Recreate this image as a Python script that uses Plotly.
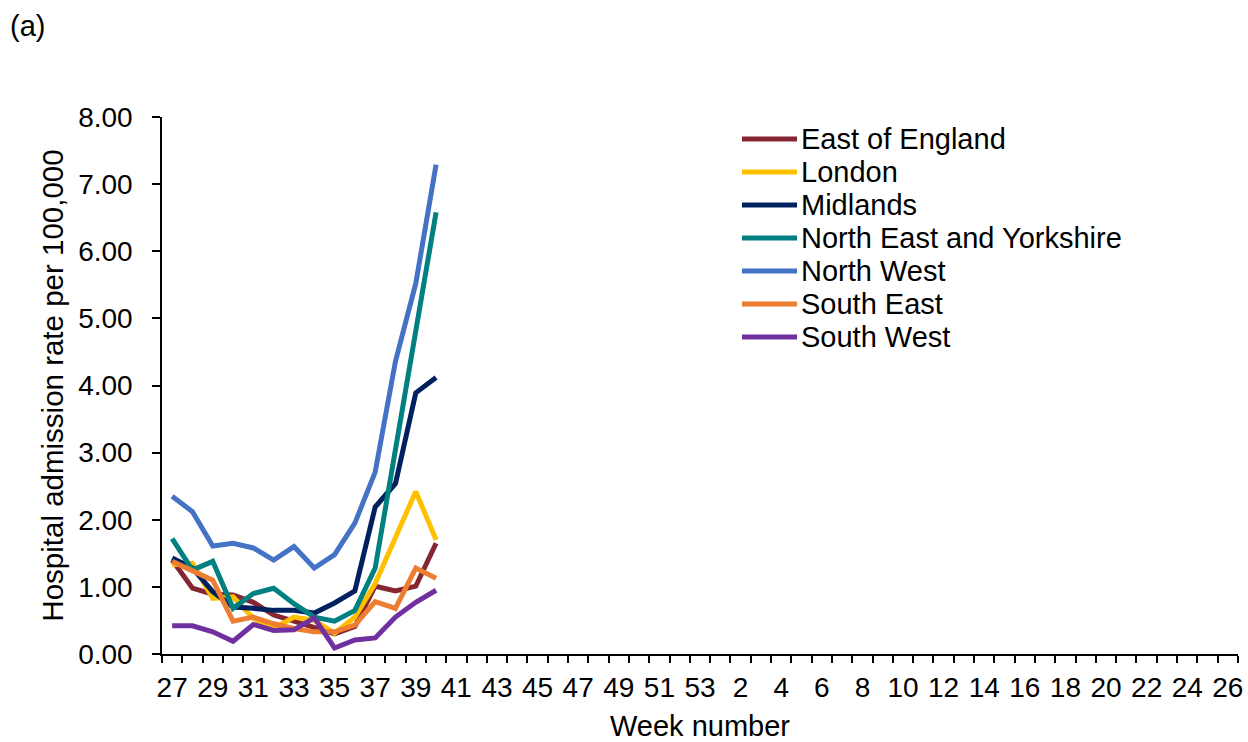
import plotly.graph_objects as go

# 주차 라벨 (27주 ~ 53주, 이후 1주 ~ 26주)
week_labels = ['27', '28', '29', '30', '31', '32', '33', '34', '35', '36', '37', '38', '39', '40',
               '41', '42', '43', '44', '45', '46', '47', '48', '49', '50', '51', '52', '53',
               '1', '2', '3', '4', '5', '6', '7', '8', '9', '10', '11', '12', '13', '14',
               '15', '16', '17', '18', '19', '20', '21', '22', '23', '24', '25', '26']
data_weeks = ['27', '28', '29', '30', '31', '32', '33', '34', '35', '36', '37', '38', '39', '40']

regions = ['East of England', 'London', 'Midlands', 'North East and Yorkshire',
           'North West', 'South East', 'South West']
colors = ['#862633', '#FFC000', '#002060', '#008080', '#4472C4', '#ED7D31', '#7030A0']

east_of_england = [1.40, 0.98, 0.89, 0.88, 0.77, 0.58, 0.49, 0.40, 0.30, 0.41, 1.01, 0.94, 1.01, 1.65]
london = [1.33, 1.35, 0.83, 0.85, 0.53, 0.38, 0.55, 0.50, 0.31, 0.55, 1.05, 1.75, 2.42, 1.70]
midlands = [1.43, 1.28, 0.93, 0.70, 0.68, 0.65, 0.65, 0.61, 0.76, 0.94, 2.19, 2.54, 3.89, 4.12]
north_east_yorkshire = [1.72, 1.25, 1.38, 0.68, 0.90, 0.98, 0.75, 0.55, 0.49, 0.65, 1.28, 3.08, 4.87, 6.58]
north_west = [2.35, 2.12, 1.61, 1.65, 1.58, 1.40, 1.60, 1.28, 1.48, 1.95, 2.71, 4.36, 5.52, 7.29]
south_east = [1.38, 1.23, 1.10, 0.49, 0.55, 0.45, 0.38, 0.33, 0.33, 0.43, 0.78, 0.68, 1.28, 1.13]
south_west = [0.42, 0.42, 0.33, 0.19, 0.44, 0.35, 0.36, 0.54, 0.09, 0.21, 0.24, 0.55, 0.77, 0.95]

series = [east_of_england, london, midlands, north_east_yorkshire,
          north_west, south_east, south_west]

FONT = 'Liberation Sans, Arial, sans-serif'

fig = go.Figure()

for name, color, vals in zip(regions, colors, series):
    fig.add_trace(go.Scatter(
        x=data_weeks,
        y=vals,
        mode='lines',
        name=name,
        line=dict(color=color, width=5),
        showlegend=False
    ))

# 수동 범례 (Excel 스타일: 긴 선 샘플, 촘촘한 행 간격)
plot_left, plot_w = 162, 1076
plot_bottom, plot_h = 654, 537
for i, (name, color) in enumerate(zip(regions, colors)):
    yp = (plot_bottom - (139 + 33 * i)) / plot_h
    fig.add_shape(type='line', xref='paper', yref='paper',
                  x0=(742 - plot_left) / plot_w, x1=(797 - plot_left) / plot_w,
                  y0=yp, y1=yp, line=dict(color=color, width=5))
    fig.add_annotation(xref='paper', yref='paper', x=(799 - plot_left) / plot_w, y=yp,
                       text=name, showarrow=False, xanchor='left', yanchor='middle',
                       font=dict(family=FONT, size=29, color='black'))

# 패널 라벨
fig.add_annotation(xref='paper', yref='paper', x=(8 - plot_left) / plot_w,
                   y=(plot_bottom - 26) / plot_h, text='(a)', showarrow=False,
                   xanchor='left', yanchor='middle',
                   font=dict(family=FONT, size=29, color='black'))

tick_text = [w if i % 2 == 0 else '' for i, w in enumerate(week_labels)]

fig.update_xaxes(
    type='category',
    categoryorder='array',
    categoryarray=week_labels,
    tickmode='array',
    tickvals=week_labels,
    ticktext=tick_text,
    tickson='boundaries',
    tickangle=0,
    range=[-0.5, len(week_labels) - 0.5],
    ticks='outside',
    ticklen=7,
    tickcolor='black',
    tickwidth=1.5,
    ticklabelstandoff=8,
    showline=True,
    linecolor='black',
    linewidth=1.5,
    showgrid=False,
    tickfont=dict(family=FONT, size=28, color='black'),
    title=dict(text='Week number', standoff=19,
               font=dict(family=FONT, size=29, color='black')),
    automargin=False
)

fig.update_yaxes(
    range=[0, 8],
    tickmode='linear',
    tick0=0,
    dtick=1,
    tickformat='.2f',
    ticks='outside',
    ticklen=8,
    tickcolor='black',
    tickwidth=1.5,
    ticklabelstandoff=14,
    showline=True,
    linecolor='black',
    linewidth=1.5,
    showgrid=False,
    zeroline=False,
    tickfont=dict(family=FONT, size=28, color='black'),
    title=dict(text='Hospital admission rate per 100,000', standoff=6,
               font=dict(family=FONT, size=29.5, color='black')),
    automargin=False
)

fig.update_layout(
    width=1248,
    height=742,
    plot_bgcolor='white',
    paper_bgcolor='white',
    margin=dict(l=162, r=10, t=117, b=88),
    font=dict(family=FONT, color='black')
)

# 브라우저 기본 body 여백 제거, 모드바 숨김
fig.write_html('out.html', config={'displayModeBar': False},
               post_script="document.body.style.margin='0';")
